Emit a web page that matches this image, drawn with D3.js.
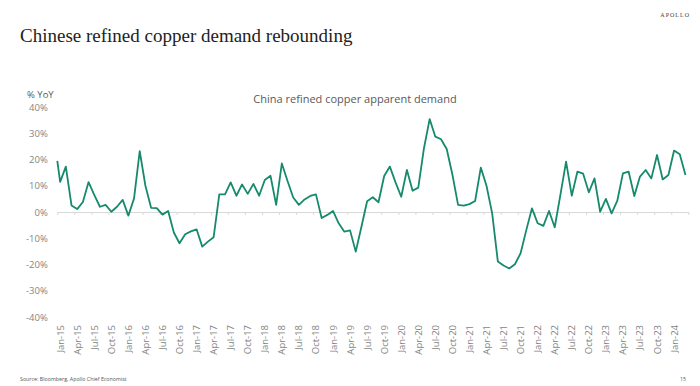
<!DOCTYPE html>
<html>
<head>
<meta charset="utf-8">
<script src="https://cdn.jsdelivr.net/npm/d3@7"></script>
<style>
  html, body { margin: 0; padding: 0; background: #fff; }
  svg { display: block; }
</style>
</head>
<body>
<svg id="chart" width="700" height="386"></svg>
<script>
// ---- data (monthly, Jan-15 .. Mar-24, % YoY) ----
const startValue = 19.5; // value where the line meets the left edge of the axis
const values = [
  11.5, 17.3, 2.5, 1.1, 3.8, 11.4, 6.5, 2.0, 2.7, 0.1, 2.0, 4.6,        // 2015
  -1.4, 5.2, 23.2, 10.0, 1.6, 1.5, -1.0, 0.4, -7.8, -11.9, -8.5, -7.4,  // 2016
  -6.6, -13.2, -11.3, -9.6, 6.7, 6.7, 11.3, 6.2, 10.5, 6.9, 10.7, 6.2,  // 2017
  12.2, 13.8, 2.7, 18.5, 11.8, 5.5, 2.7, 4.8, 6.1, 6.7, -2.3, -1.1,     // 2018
  0.4, -4.3, -7.5, -7.0, -15.1, -5.6, 4.1, 5.6, 3.7, 13.7, 17.3, 11.3,  // 2019
  5.8, 16.0, 8.1, 9.3, 24.3, 35.4, 28.7, 27.7, 24.0, 14.3, 2.7, 2.4,    // 2020
  3.0, 4.2, 16.9, 10.0, -0.5, -18.9, -20.4, -21.5, -19.9, -15.7, -6.9, 1.4, // 2021
  -4.3, -5.3, 0.4, -5.8, 6.5, 19.2, 6.2, 15.4, 14.6, 7.5, 12.8, 0.1,    // 2022
  5.0, -0.5, 4.2, 14.7, 15.4, 6.1, 13.5, 16.0, 12.8, 21.7, 12.4, 14.1,  // 2023
  23.4, 22.0, 14.1                                                        // 2024
];
const tickLabels = [
  "Jan-15","Apr-15","Jul-15","Oct-15","Jan-16","Apr-16","Jul-16","Oct-16",
  "Jan-17","Apr-17","Jul-17","Oct-17","Jan-18","Apr-18","Jul-18","Oct-18",
  "Jan-19","Apr-19","Jul-19","Oct-19","Jan-20","Apr-20","Jul-20","Oct-20",
  "Jan-21","Apr-21","Jul-21","Oct-21","Jan-22","Apr-22","Jul-22","Oct-22",
  "Jan-23","Apr-23","Jul-23","Oct-23","Jan-24"
];
const yTicks = [40, 30, 20, 10, 0, -10, -20, -30, -40];

const titleText = "Chinese refined copper demand rebounding";
const chartTitle = "China refined copper apparent demand";
const yUnit = "% YoY";
const sourceText = "Source: Bloomberg, Apollo Chief Economist";
const brand = "APOLLO";
const pageNo = "15";

// ---- layout ----
const svg = d3.select("#chart");
const plotL = 57.3, plotR = 688.3, plotT = 107, plotB = 317;
const tickEvery = 3;

const x = d3.scaleLinear().domain([0, values.length]).range([plotL, plotR]);
const y = d3.scaleLinear().domain([-40, 40]).range([plotB, plotT]);

const sans = "'Open Sans', 'Noto Sans', sans-serif";
const grey = "#858585";

// header
svg.append("text").attr("x", 20).attr("y", 42)
  .attr("font-family", "'Liberation Serif', 'DejaVu Serif', serif")
  .attr("font-size", 19).attr("fill", "#222").text(titleText);
svg.append("text").attr("x", 690).attr("y", 17).attr("text-anchor", "end")
  .attr("font-family", "'Liberation Serif', serif").attr("font-size", 6)
  .attr("letter-spacing", 1).attr("fill", "#444").text(brand);

// chart title
svg.append("text").attr("x", 355).attr("y", 102.5).attr("text-anchor", "middle")
  .attr("font-family", sans).attr("font-size", 11).attr("fill", "#595959")
  .text(chartTitle);

// y unit
svg.append("text").attr("x", 27).attr("y", 97.5)
  .attr("font-family", sans).attr("font-size", 9.5).attr("fill", "#595959").text(yUnit);

// y axis labels
const yAxis = d3.axisLeft(y).tickValues(yTicks).tickSize(0).tickPadding(0)
  .tickFormat(d => d + "%");
const yG = svg.append("g").attr("transform", `translate(${plotL - 9.5},0)`).call(yAxis);
yG.select(".domain").remove();
yG.selectAll("text").attr("font-family", sans).attr("font-size", 9.5).attr("fill", grey);

// x axis line at 0 with ticks at category boundaries
const boundaryTicks = d3.range(0, values.length + 1, tickEvery);
const xAxis = d3.axisBottom(x).tickValues(boundaryTicks).tickSize(3).tickSizeOuter(0).tickFormat("");
const xG = svg.append("g").attr("transform", `translate(0,${y(0)})`).call(xAxis);
xG.select(".domain").attr("stroke", "#d9d9d9").attr("stroke-width", 1);
xG.selectAll(".tick line").attr("stroke", "#d9d9d9");

// x labels (rotated, at category centres, at the bottom)
svg.append("g").selectAll("text").data(tickLabels).join("text")
  .attr("transform", (d, k) => `translate(${x(k * tickEvery + 0.5) + 3.5},${plotB + 8}) rotate(-90)`)
  .attr("text-anchor", "end")
  .attr("font-family", sans).attr("font-size", 9.5).attr("fill", grey)
  .text(d => d);

// line
const pts = [[0, startValue]].concat(values.map((v, i) => [i + 0.5, v]));
const line = d3.line().x(d => x(d[0])).y(d => y(d[1]));
svg.append("path").datum(pts).attr("d", line)
  .attr("fill", "none").attr("stroke", "#168a6c").attr("stroke-width", 1.8)
  .attr("stroke-linejoin", "round");

// footer
svg.append("text").attr("x", 20).attr("y", 381)
  .attr("font-family", sans).attr("font-size", 5.3).attr("fill", "#555").text(sourceText);
svg.append("text").attr("x", 686).attr("y", 381).attr("text-anchor", "end")
  .attr("font-family", sans).attr("font-size", 5.3).attr("fill", "#555").text(pageNo);
</script>
</body>
</html>
